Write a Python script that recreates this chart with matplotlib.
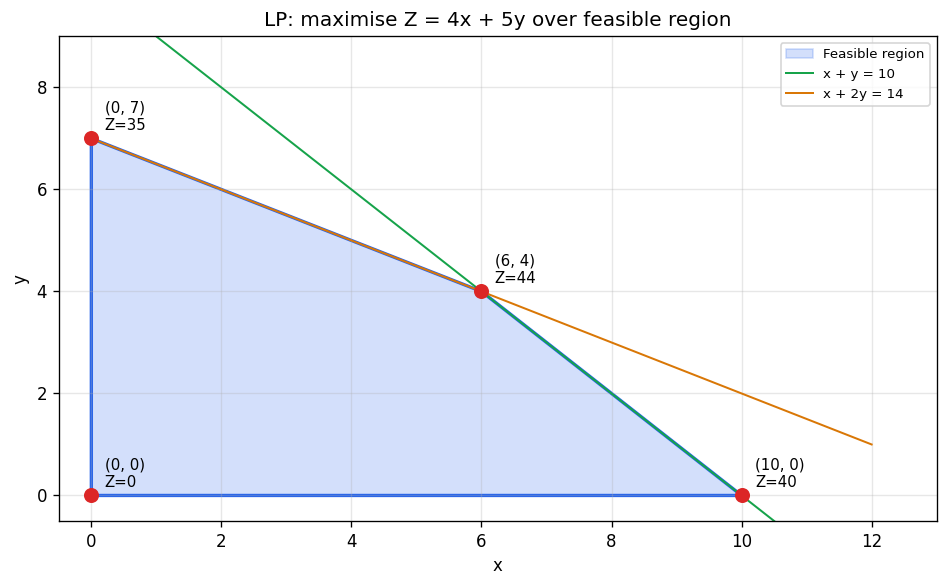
import numpy as np
import matplotlib.pyplot as plt
from matplotlib.patches import Polygon

# vertices of feasible region and objective values
vx = [0, 0, 6, 10]
vy = [0, 7, 4, 0]
zvals = [0, 35, 44, 40]

# constraint lines
xs = np.array([0, 12])
y1 = 10 - xs
y2 = (14 - xs) / 2

plt.rcParams["figure.figsize"] = [949 / 120, 588 / 120]
fig, ax = plt.subplots(dpi=120)

poly = Polygon(list(zip(vx, vy)), closed=True, facecolor='#2563eb', alpha=0.2,
               edgecolor='#2563eb', label='Feasible region')
ax.add_patch(poly)
ax.add_patch(Polygon(list(zip(vx, vy)), closed=True, fill=False,
                     edgecolor='#2563eb', linewidth=2))

ax.plot(xs, y1, color='#16a34a', linewidth=1.2, label='x + y = 10')
ax.plot(xs, y2, color='#d97706', linewidth=1.2, label='x + 2y = 14')

ax.plot(vx, vy, 'o', color='#dc2626', markersize=8, zorder=5)
for x, y, z in zip(vx, vy, zvals):
    ax.annotate('(%d, %d)\nZ=%d' % (x, y, z), (x, y), xytext=(8, 5),
                textcoords='offset points', fontsize=9)

ax.set_xlim(-0.5, 13)
ax.set_ylim(-0.5, 9)
ax.grid(True, alpha=0.3)
ax.set_xlabel('x')
ax.set_ylabel('y')
ax.set_title('LP: maximise Z = 4x + 5y over feasible region')
ax.legend(loc='upper right', fontsize=8)
plt.subplots_adjust(left=0.062, right=0.987, top=0.938, bottom=0.114)
plt.savefig('out.png', dpi=120)
